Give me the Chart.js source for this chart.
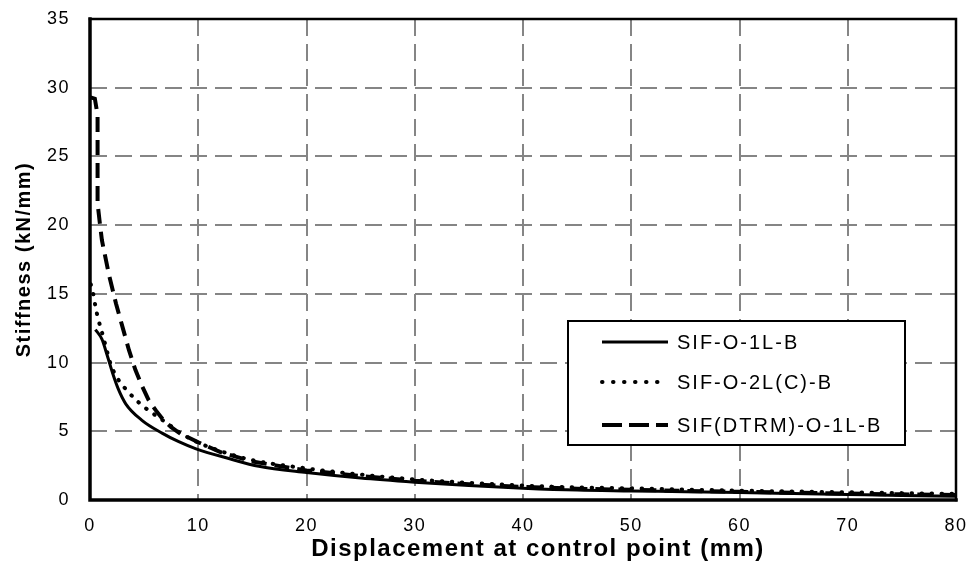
<!DOCTYPE html>
<html><head><meta charset="utf-8">
<script src="https://cdn.jsdelivr.net/npm/chart.js@4.4.1/dist/chart.umd.min.js"></script>
<style>html,body{margin:0;padding:0;background:#fff;}canvas{display:block;}</style>
</head><body>
<canvas id="c" width="973" height="565"></canvas>
<script>
// ---- data ----
const xTicks = [0, 10, 20, 30, 40, 50, 60, 70, 80];
const yTicks = [0, 5, 10, 15, 20, 25, 30, 35];
const seriesNames = ['SIF-O-1L-B', 'SIF-O-2L(C)-B', 'SIF(DTRM)-O-1L-B'];
const xTitle = 'Displacement at control point (mm)';
const yTitle = 'Stiffness (kN/mm)';

const solidX = [0.5, 1.1, 1.6, 2.1, 2.6, 3.3, 4.8, 6.7, 8.2, 9.8, 12.9, 15.6, 20, 25, 30, 35, 40, 45, 50, 55, 60, 65, 70, 75, 80];
const solidY = [12.4, 11.7, 10.5, 9.2, 8.1, 7.0, 5.8, 4.85, 4.24, 3.72, 3.0, 2.45, 2.0, 1.6, 1.3, 1.05, 0.86, 0.72, 0.66, 0.6, 0.54, 0.47, 0.4, 0.33, 0.27];

const dottedX = [0.07, 0.3, 0.5, 0.78, 1.0, 1.45, 1.9, 2.5, 3.5, 4.5, 5.8, 7.1, 8.3, 9.8, 11.9, 15, 20, 25, 30, 35, 40, 45, 50, 55, 60, 65, 70, 75, 80];
const dottedY = [15.7, 15.0, 14.1, 13.1, 12.5, 11.2, 9.9, 8.9, 7.9, 7.1, 6.3, 5.6, 4.9, 4.25, 3.6, 2.9, 2.3, 1.85, 1.5, 1.25, 1.05, 0.92, 0.85, 0.76, 0.68, 0.62, 0.56, 0.5, 0.45];

const dashedX = [0.05, 0.45, 0.7, 0.7, 0.9, 1.1, 1.75, 2.4, 3.0, 3.6, 4.2, 4.8, 5.4, 6.1, 6.8, 7.5, 8.3, 10, 12, 15, 20, 25, 30, 35, 40, 45, 50, 55, 60, 65, 70, 75, 80];
const dashedY = [29.3, 29.2, 28.0, 21.6, 20.2, 18.9, 16.4, 14.3, 12.6, 10.9, 9.45, 8.3, 7.3, 6.5, 5.8, 5.3, 4.85, 4.2, 3.5, 2.8, 2.15, 1.75, 1.4, 1.15, 0.95, 0.82, 0.74, 0.66, 0.6, 0.53, 0.47, 0.41, 0.36];

const toPts = (xs, ys) => xs.map((x, i) => ({x: x, y: ys[i]}));
const FONT = '"Liberation Sans", Arial, sans-serif';

const spacing = {
  id: 'spacing',
  beforeLayout(c) { c.ctx.letterSpacing = '1.5px'; },
  beforeDraw(c) { c.ctx.letterSpacing = '1.5px'; }
};

const frameAndLegend = {
  id: 'frameAndLegend',
  afterDatasetsDraw(c) {
    const ctx = c.ctx, a = c.chartArea;
    ctx.save();
    ctx.strokeStyle = '#000';
    ctx.lineCap = 'square';
    ctx.setLineDash([]);
    ctx.lineWidth = 2.5;
    ctx.beginPath();
    ctx.moveTo(a.left, a.top); ctx.lineTo(a.right, a.top); ctx.lineTo(a.right, a.bottom);
    ctx.stroke();
    ctx.lineWidth = 3.5;
    ctx.beginPath();
    ctx.moveTo(a.left, a.top); ctx.lineTo(a.left, a.bottom); ctx.lineTo(a.right, a.bottom);
    ctx.stroke();

    // legend box
    const bx = 568, by = 321, bw = 337, bh = 124;
    ctx.fillStyle = '#fff';
    ctx.fillRect(bx, by, bw, bh);
    ctx.lineWidth = 2;
    ctx.strokeRect(bx, by, bw, bh);
    const rows = [342, 382, 425];
    ctx.font = '20px ' + FONT;
    ctx.letterSpacing = '2px';
    ctx.textBaseline = 'middle';
    ctx.textAlign = 'left';
    ctx.fillStyle = '#000';
    c.data.datasets.forEach((ds, i) => {
      const y = rows[i];
      ctx.save();
      ctx.strokeStyle = ds.borderColor;
      ctx.lineWidth = ds.borderWidth;
      ctx.lineCap = ds.borderCapStyle || 'butt';
      ctx.setLineDash(ds.legendDash || []);
      ctx.beginPath();
      ctx.moveTo(602, y); ctx.lineTo(668, y);
      ctx.stroke();
      ctx.restore();
      ctx.fillText(ds.label, 677, y + 1);
    });
    ctx.restore();
  }
};

new Chart(document.getElementById('c'), {
  type: 'line',
  data: {
    datasets: [
      {label: seriesNames[0], data: toPts(solidX, solidY), borderColor: '#000', borderWidth: 3,
       pointRadius: 0, cubicInterpolationMode: 'monotone', legendDash: []},
      {label: seriesNames[1], data: toPts(dottedX, dottedY), borderColor: '#000', borderWidth: 4,
       borderDash: [0.5, 9.5], borderCapStyle: 'round', legendDash: [0.5, 10.5],
       pointRadius: 0, cubicInterpolationMode: 'monotone'},
      {label: seriesNames[2], data: toPts(dashedX, dashedY), borderColor: '#000', borderWidth: 4,
       borderDash: [15, 8], legendDash: [20, 7],
       pointRadius: 0, tension: 0}
    ]
  },
  options: {
    responsive: false,
    animation: false,
    events: [],
    layout: {padding: {top: 19, right: 17, left: 0, bottom: 0}},
    plugins: {legend: {display: false}, tooltip: {enabled: false}},
    scales: {
      x: {
        type: 'linear', min: xTicks[0], max: xTicks[xTicks.length - 1],
        afterFit(s) {
          s.height = 65; s.paddingLeft = 0; s.paddingRight = 0;
          if (!s._titleShifted) {
            const orig = s.drawTitle;
            s.drawTitle = function () {
              this.ctx.save(); this.ctx.translate(15, 0);
              orig.apply(this, arguments);
              this.ctx.restore();
            };
            s._titleShifted = true;
          }
        },
        afterBuildTicks(s) { s.ticks = xTicks.map(v => ({value: v})); },
        ticks: {color: '#000', padding: 15, maxRotation: 0, autoSkip: false,
          font: {family: FONT, size: 18}},
        grid: {color: '#858585', lineWidth: 2, drawTicks: false},
        border: {display: false, dash: [17, 8]},
        title: {display: true, text: xTitle, color: '#000', padding: {top: 0, bottom: 1},
          font: {family: FONT, size: 24, weight: 'bold'}}
      },
      y: {
        type: 'linear', min: yTicks[0], max: yTicks[yTicks.length - 1],
        afterFit(s) { s.width = 90; s.paddingTop = 0; s.paddingBottom = 0; },
        afterBuildTicks(s) { s.ticks = yTicks.map(v => ({value: v})); },
        ticks: {color: '#000', padding: 20,
          font: {family: FONT, size: 18}},
        grid: {color: '#858585', lineWidth: 2, drawTicks: false},
        border: {display: false, dash: [17, 8]},
        title: {display: true, text: yTitle, color: '#000', padding: {top: 12, bottom: 0},
          font: {family: FONT, size: 20, weight: 'bold'}}
      }
    }
  },
  plugins: [spacing, frameAndLegend]
});
</script>
</body></html>
